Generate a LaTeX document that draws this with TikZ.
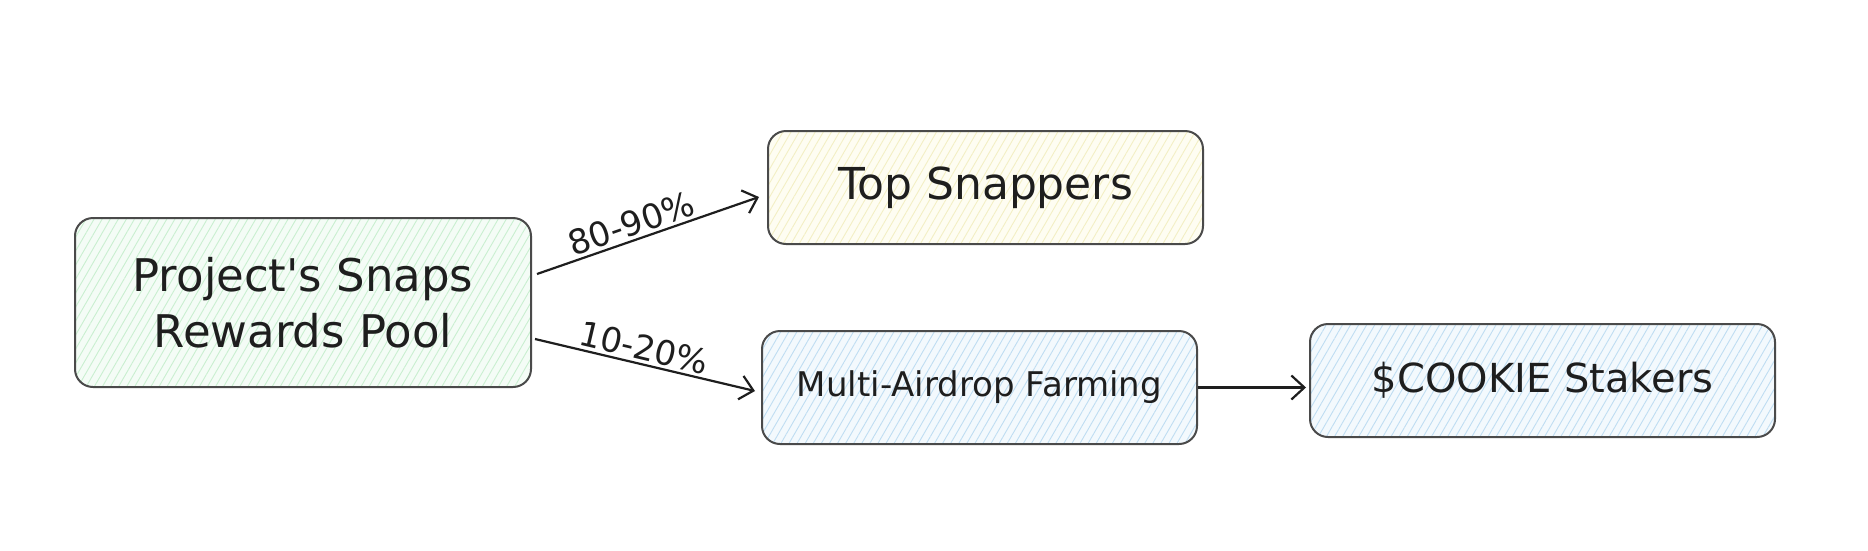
\documentclass[tikz,border=0pt]{standalone}
\usepackage{fontspec}
\setmainfont{DejaVu Sans}[Ligatures=TeXOff]
\usetikzlibrary{patterns.meta,arrows.meta,calc}
\definecolor{boxline}{HTML}{4A4A4A}
\definecolor{ink}{HTML}{1E1E1E}
\definecolor{gfill}{HTML}{F4FCF6}
\definecolor{ghatch}{HTML}{C9EFD0}
\definecolor{yfill}{HTML}{FEFDF2}
\definecolor{yhatch}{HTML}{F3EFC4}
\definecolor{bfill}{HTML}{F3F9FD}
\definecolor{bhatch}{HTML}{BFDDF2}
\begin{document}
\begin{tikzpicture}[x=1pt,y=-1pt,
  box/.style={draw=boxline, line width=2pt, rounded corners=18pt,
    align=center, inner sep=0pt, text=ink},
  hatch/.style 2 args={preaction={fill=#1},
    preaction={pattern={Lines[angle=60,distance=7pt,line width=0.9pt]}, pattern color=#2}},
  conn/.style={draw=ink, line width=2.2pt, -{Straight Barb[length=13pt,width=24pt,line width=2.2pt]}},
  pct/.style={text=ink, font=\fontsize{34}{40}\selectfont, inner sep=3pt}
]
\useasboundingbox (0,0) rectangle (1868,550);
\node[box, hatch={gfill}{ghatch}, minimum width=456pt, minimum height=169pt,
  font=\fontsize{45}{56}\selectfont] (L) at (303,302.5) {Project's Snaps\\Rewards Pool};
\node[box, hatch={yfill}{yhatch}, minimum width=435pt, minimum height=113pt,
  font=\fontsize{44}{50}\selectfont] (T) at (985.5,187.5) {Top Snappers};
\node[box, hatch={bfill}{bhatch}, minimum width=435pt, minimum height=113pt,
  font=\fontsize{34}{40}\selectfont] (M) at (979.5,387.5) {Multi-Airdrop Farming};
\node[box, hatch={bfill}{bhatch}, minimum width=465pt, minimum height=113pt,
  font=\fontsize{40}{46}\selectfont] (C) at (1542.5,380.5) {\$COOKIE Stakers};
\draw[conn] ([shift={(5,-28.5)}]L.east) -- node[pct, sloped, above, pos=0.45] {80-90\%} ([shift={(-8,9.5)}]T.west);
\draw[conn] ([shift={(3,36.5)}]L.east) -- node[pct, sloped, above, pos=0.48] {10-20\%} ([shift={(-6,3.5)}]M.west);
\draw[conn, shorten >=3pt] (M.east) -- (M.east -| C.west);
\end{tikzpicture}
\end{document}
